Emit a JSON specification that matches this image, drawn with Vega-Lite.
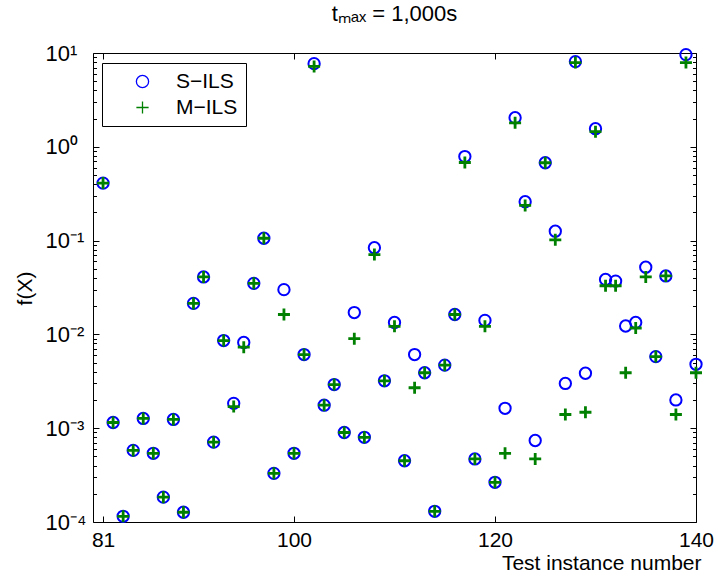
{
  "$schema": "https://vega.github.io/schema/vega-lite/v6.json",
  "width": 603,
  "height": 469,
  "autosize": {"type": "none"},
  "padding": {"left": 93, "top": 53, "right": 22, "bottom": 59},
  "background": "white",
  "title": {"text": "tₘₐₓ = 1,000s", "font": "Liberation Sans", "fontSize": 22, "fontWeight": "normal", "color": "black", "baseline": "alphabetic", "offset": -1, "anchor": "middle"},
  "config": {"view": {"stroke": "black", "strokeWidth": 1}},
  "data": {"values": [
    {"n":81,"s":"S−ILS","f":0.41},{"n":82,"s":"S−ILS","f":0.00115},{"n":83,"s":"S−ILS","f":0.000115},{"n":84,"s":"S−ILS","f":0.00058},
    {"n":85,"s":"S−ILS","f":0.00127},{"n":86,"s":"S−ILS","f":0.00054},{"n":87,"s":"S−ILS","f":0.000184},{"n":88,"s":"S−ILS","f":0.00124},
    {"n":89,"s":"S−ILS","f":0.000127},{"n":90,"s":"S−ILS","f":0.0214},{"n":91,"s":"S−ILS","f":0.041},{"n":92,"s":"S−ILS","f":0.00071},
    {"n":93,"s":"S−ILS","f":0.0086},{"n":94,"s":"S−ILS","f":0.00184},{"n":95,"s":"S−ILS","f":0.0082},{"n":96,"s":"S−ILS","f":0.035},
    {"n":97,"s":"S−ILS","f":0.106},{"n":98,"s":"S−ILS","f":0.00033},{"n":99,"s":"S−ILS","f":0.030},{"n":100,"s":"S−ILS","f":0.00054},
    {"n":101,"s":"S−ILS","f":0.0061},{"n":102,"s":"S−ILS","f":7.7},{"n":103,"s":"S−ILS","f":0.00176},{"n":104,"s":"S−ILS","f":0.00292},
    {"n":105,"s":"S−ILS","f":0.0009},{"n":106,"s":"S−ILS","f":0.0171},{"n":107,"s":"S−ILS","f":0.0008},{"n":108,"s":"S−ILS","f":0.084},
    {"n":109,"s":"S−ILS","f":0.0032},{"n":110,"s":"S−ILS","f":0.0134},{"n":111,"s":"S−ILS","f":0.00045},{"n":112,"s":"S−ILS","f":0.0061},
    {"n":113,"s":"S−ILS","f":0.0039},{"n":114,"s":"S−ILS","f":0.00013},{"n":115,"s":"S−ILS","f":0.0047},{"n":116,"s":"S−ILS","f":0.0163},
    {"n":117,"s":"S−ILS","f":0.787},{"n":118,"s":"S−ILS","f":0.00047},{"n":119,"s":"S−ILS","f":0.0141},{"n":120,"s":"S−ILS","f":0.000265},
    {"n":121,"s":"S−ILS","f":0.00163},{"n":122,"s":"S−ILS","f":2.04},{"n":123,"s":"S−ILS","f":0.26},{"n":124,"s":"S−ILS","f":0.00074},
    {"n":125,"s":"S−ILS","f":0.676},{"n":126,"s":"S−ILS","f":0.126},{"n":127,"s":"S−ILS","f":0.003},{"n":128,"s":"S−ILS","f":8.1},
    {"n":129,"s":"S−ILS","f":0.00385},{"n":130,"s":"S−ILS","f":1.56},{"n":131,"s":"S−ILS","f":0.0385},{"n":132,"s":"S−ILS","f":0.037},
    {"n":133,"s":"S−ILS","f":0.0123},{"n":134,"s":"S−ILS","f":0.0134},{"n":135,"s":"S−ILS","f":0.052},{"n":136,"s":"S−ILS","f":0.0058},
    {"n":137,"s":"S−ILS","f":0.042},{"n":138,"s":"S−ILS","f":0.002},{"n":139,"s":"S−ILS","f":9.6},{"n":140,"s":"S−ILS","f":0.0048},
    {"n":81,"s":"M−ILS","f":0.41},{"n":82,"s":"M−ILS","f":0.00115},{"n":83,"s":"M−ILS","f":0.000115},{"n":84,"s":"M−ILS","f":0.00058},
    {"n":85,"s":"M−ILS","f":0.00127},{"n":86,"s":"M−ILS","f":0.00054},{"n":87,"s":"M−ILS","f":0.000184},{"n":88,"s":"M−ILS","f":0.00124},
    {"n":89,"s":"M−ILS","f":0.000127},{"n":90,"s":"M−ILS","f":0.0214},{"n":91,"s":"M−ILS","f":0.041},{"n":92,"s":"M−ILS","f":0.00071},
    {"n":93,"s":"M−ILS","f":0.0086},{"n":94,"s":"M−ILS","f":0.0017},{"n":95,"s":"M−ILS","f":0.0073},{"n":96,"s":"M−ILS","f":0.035},
    {"n":97,"s":"M−ILS","f":0.106},{"n":98,"s":"M−ILS","f":0.00033},{"n":99,"s":"M−ILS","f":0.0163},{"n":100,"s":"M−ILS","f":0.00054},
    {"n":101,"s":"M−ILS","f":0.0061},{"n":102,"s":"M−ILS","f":7.2},{"n":103,"s":"M−ILS","f":0.00176},{"n":104,"s":"M−ILS","f":0.00292},
    {"n":105,"s":"M−ILS","f":0.0009},{"n":106,"s":"M−ILS","f":0.009},{"n":107,"s":"M−ILS","f":0.0008},{"n":108,"s":"M−ILS","f":0.071},
    {"n":109,"s":"M−ILS","f":0.0032},{"n":110,"s":"M−ILS","f":0.0122},{"n":111,"s":"M−ILS","f":0.00045},{"n":112,"s":"M−ILS","f":0.0027},
    {"n":113,"s":"M−ILS","f":0.0039},{"n":114,"s":"M−ILS","f":0.00013},{"n":115,"s":"M−ILS","f":0.0047},{"n":116,"s":"M−ILS","f":0.0163},
    {"n":117,"s":"M−ILS","f":0.68},{"n":118,"s":"M−ILS","f":0.00047},{"n":119,"s":"M−ILS","f":0.0122},{"n":120,"s":"M−ILS","f":0.000265},
    {"n":121,"s":"M−ILS","f":0.00054},{"n":122,"s":"M−ILS","f":1.8},{"n":123,"s":"M−ILS","f":0.237},{"n":124,"s":"M−ILS","f":0.00047},
    {"n":125,"s":"M−ILS","f":0.676},{"n":126,"s":"M−ILS","f":0.102},{"n":127,"s":"M−ILS","f":0.0014},{"n":128,"s":"M−ILS","f":7.9},
    {"n":129,"s":"M−ILS","f":0.00148},{"n":130,"s":"M−ILS","f":1.45},{"n":131,"s":"M−ILS","f":0.033},{"n":132,"s":"M−ILS","f":0.033},
    {"n":133,"s":"M−ILS","f":0.0039},{"n":134,"s":"M−ILS","f":0.0117},{"n":135,"s":"M−ILS","f":0.041},{"n":136,"s":"M−ILS","f":0.0058},
    {"n":137,"s":"M−ILS","f":0.042},{"n":138,"s":"M−ILS","f":0.0014},{"n":139,"s":"M−ILS","f":7.9},{"n":140,"s":"M−ILS","f":0.0039}
  ]},
  "layer": [
    {
      "transform": [{"filter": "datum.s === 'S−ILS'"}],
      "mark": {"type": "point", "filled": false, "size": 128, "strokeWidth": 2, "opacity": 1},
      "encoding": {
        "x": {"field": "n", "type": "quantitative", "scale": {"domain": [80, 140], "nice": false, "zero": false},
          "axis": {"orient": "bottom", "values": [81, 100, 120, 140], "tickSize": -6, "tickColor": "black", "domain": false, "grid": false,
            "labelFont": "Liberation Sans", "labelFontSize": 21, "labelColor": "black", "labelBaseline": "alphabetic", "labelPadding": 30, "labelFlush": false, "labelOverlap": false,
            "title": "Test instance number", "titleFont": "Liberation Sans", "titleFontSize": 21, "titleFontWeight": "normal", "titleColor": "black",
            "titleAnchor": "end", "titleAlign": "right", "titleBaseline": "alphabetic", "titleX": 608, "titleY": 47}},
        "y": {"field": "f", "type": "quantitative", "scale": {"type": "log", "domain": [0.0001, 10], "nice": false},
          "axis": {"orient": "left", "values": [0.0001,0.0002,0.0003,0.0004,0.0005,0.0006,0.0007,0.0008,0.0009,0.001,0.002,0.003,0.004,0.005,0.006,0.007,0.008,0.009,0.01,0.02,0.03,0.04,0.05,0.06,0.07,0.08,0.09,0.1,0.2,0.3,0.4,0.5,0.6,0.7,0.8,0.9,1,2,3,4,5,6,7,8,9,10],
            "labelExpr": "datum.value==10?'10¹':datum.value==1?'10⁰':datum.value==0.1?'10⁻¹':datum.value==0.01?'10⁻²':datum.value==0.001?'10⁻³':datum.value==0.0001?'10⁻⁴':''",
            "tickSize": {"condition": {"test": "datum.value==10||datum.value==1||datum.value==0.1||datum.value==0.01||datum.value==0.001||datum.value==0.0001", "value": -6}, "value": -3.5},
            "tickColor": "black", "domain": false, "grid": false,
            "labelFont": "Liberation Sans", "labelFontSize": 22, "labelColor": "black", "labelAlign": "left", "labelBaseline": "middle", "labelPadding": 54, "labelDy": 2, "labelOverlap": false, "labelFlush": false, "labelBound": false,
            "title": "f(X)", "titleFont": "Liberation Sans", "titleFontSize": 21, "titleFontWeight": "normal", "titleColor": "black",
            "titleX": -68, "titleY": 235, "titleAngle": 270, "titleAlign": "center", "titleBaseline": "middle"}},
        "color": {"field": "s", "type": "nominal", "scale": {"domain": ["S−ILS", "M−ILS"], "range": ["#0000ff", "#008000"]},
          "legend": {"title": null, "orient": "none", "legendX": 9, "legendY": 10, "padding": 8, "strokeColor": "black", "fillColor": "white",
            "labelFont": "Liberation Sans", "labelFontSize": 21, "labelColor": "black", "symbolSize": 150, "symbolStrokeWidth": 1.3, "symbolOpacity": 1,
            "symbolOffset": 22, "labelOffset": 23, "rowPadding": 4}},
        "shape": {"field": "s", "type": "nominal", "scale": {"domain": ["S−ILS", "M−ILS"], "range": ["circle", "M-1,0H1M0,-1V1"]},
          "legend": {"title": null, "orient": "none", "legendX": 9, "legendY": 10, "padding": 8, "strokeColor": "black", "fillColor": "white",
            "labelFont": "Liberation Sans", "labelFontSize": 21, "labelColor": "black", "symbolSize": 150, "symbolStrokeWidth": 1.3, "symbolOpacity": 1,
            "symbolOffset": 22, "labelOffset": 23, "rowPadding": 4}}
      }
    },
    {
      "transform": [{"filter": "datum.s === 'M−ILS'"}],
      "mark": {"type": "point", "filled": false, "size": 144, "strokeWidth": 2.8, "opacity": 1},
      "encoding": {
        "x": {"field": "n", "type": "quantitative", "scale": {"domain": [80, 140], "nice": false, "zero": false}, "axis": null},
        "y": {"field": "f", "type": "quantitative", "scale": {"type": "log", "domain": [0.0001, 10], "nice": false}, "axis": null},
        "color": {"field": "s", "type": "nominal", "scale": {"domain": ["S−ILS", "M−ILS"], "range": ["#0000ff", "#008000"]}},
        "shape": {"field": "s", "type": "nominal", "scale": {"domain": ["S−ILS", "M−ILS"], "range": ["circle", "M-1,0H1M0,-1V1"]}}
      }
    },
    {
      "mark": {"type": "point", "opacity": 0},
      "encoding": {
        "x": {"field": "n", "type": "quantitative", "scale": {"domain": [80, 140], "nice": false, "zero": false},
          "axis": {"orient": "top", "values": [81, 100, 120, 140], "tickSize": -6, "tickColor": "black", "domain": false, "grid": false, "labels": false, "title": null}},
        "y": {"field": "f", "type": "quantitative", "scale": {"type": "log", "domain": [0.0001, 10], "nice": false},
          "axis": {"orient": "right", "values": [0.0001,0.0002,0.0003,0.0004,0.0005,0.0006,0.0007,0.0008,0.0009,0.001,0.002,0.003,0.004,0.005,0.006,0.007,0.008,0.009,0.01,0.02,0.03,0.04,0.05,0.06,0.07,0.08,0.09,0.1,0.2,0.3,0.4,0.5,0.6,0.7,0.8,0.9,1,2,3,4,5,6,7,8,9,10],
            "tickSize": {"condition": {"test": "datum.value==10||datum.value==1||datum.value==0.1||datum.value==0.01||datum.value==0.001||datum.value==0.0001", "value": -6}, "value": -3.5},
            "tickColor": "black", "domain": false, "grid": false, "labels": false, "title": null}}
      }
    }
  ]
}
